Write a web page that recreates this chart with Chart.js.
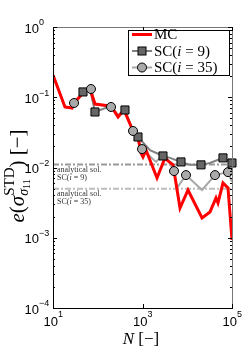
<!DOCTYPE html>
<html>
<head>
<meta charset="utf-8">
<script src="https://cdn.jsdelivr.net/npm/chart.js@4.4.1/dist/chart.umd.min.js"></script>
<style>
  html, body { margin: 0; padding: 0; background: #fff; }
  #wrap { width: 245px; height: 354px; }
</style>
</head>
<body>
<div id="wrap"><canvas id="errChart" width="245" height="354"></canvas></div>
<script>
// Monte Carlo error curve
const mcN   = [10, 18.5, 26.6, 29.5, 46.8, 67, 87, 198, 284, 386, 614, 793, 925, 1025, 1200, 2110, 3180, 3720, 4810, 6890, 10400, 21400, 32200, 43900, 48600, 62900, 81400, 100000];
const mcErr = [0.207, 0.0727, 0.0703, 0.0828, 0.115, 0.131, 0.0801, 0.075, 0.0523, 0.0659, 0.0331, 0.0272, 0.0161, 0.0141, 0.0177, 0.0071, 0.0137, 0.0124, 0.0109, 0.00265, 0.00479, 0.00191, 0.00233, 0.00368, 0.00313, 0.00601, 0.00511, 0.00093];

// stochastic collocation, i = 9 (line and marker points)
const sc9N   = [10, 18.5, 26.6, 46.8, 67, 86.8, 198, 284, 406, 614, 793, 1472, 2870, 4121, 7250, 11510, 20290, 32230, 62920, 100000];
const sc9Err = [0.207, 0.0727, 0.0703, 0.119, 0.131, 0.0617, 0.075, 0.0559, 0.0659, 0.0331, 0.0272, 0.0177, 0.0146, 0.0137, 0.012, 0.0109, 0.0109, 0.0116, 0.0137, 0.0116];
const sc9MarkN   = [46.8, 86.8, 406, 793, 2870, 7250, 20290, 62920, 100000];
const sc9MarkErr = [0.119, 0.0617, 0.0659, 0.0272, 0.0146, 0.012, 0.0109, 0.0137, 0.0116];

// stochastic collocation, i = 35
const sc35N   = [10, 18.5, 26.6, 29.5, 46.8, 70.6, 86.8, 198, 284, 386, 614, 975, 2004, 2870, 3715, 5060, 5904, 9370, 21380, 41690, 81400, 100000];
const sc35Err = [0.207, 0.0727, 0.0703, 0.0828, 0.115, 0.131, 0.0801, 0.0727, 0.0541, 0.0659, 0.0331, 0.0183, 0.012, 0.0151, 0.0128, 0.0089, 0.0051, 0.0078, 0.00479, 0.0078, 0.0086, 0.00622];
const sc35MarkN   = [29.5, 70.6, 198, 614, 975, 5060, 9370, 41690, 81400];
const sc35MarkErr = [0.0828, 0.131, 0.0727, 0.0331, 0.0183, 0.0089, 0.0078, 0.0078, 0.0086];

// analytical solutions (SC i=9, SC i=35)
const analyticN = [10, 100000];
const analyticErr = [0.011, 0.005];

const xTicks = [1, 3, 5];
const yTicks = [0, -1, -2, -3, -4];

const pts = (xs, ys) => xs.map((x, i) => ({ x: x, y: ys[i] }));

const serif = "'Liberation Serif', 'DejaVu Serif', serif";
const sans = "'Liberation Sans', Arial, sans-serif";

function drawRuns(ctx, runs, x, y) {
  runs.forEach(r => {
    if (r.stack) {
      let w = 0;
      r.stack.forEach(s => { w = Math.max(w, drawRuns(ctx, s.runs, x, y + s.dy) - x); });
      x += w;
    } else {
      ctx.font = r.f;
      ctx.fillText(r.t, x, y + (r.dy || 0));
      x += ctx.measureText(r.t).width;
    }
  });
  return x;
}
function runsWidth(ctx, runs) {
  const c = document.createElement('canvas').getContext('2d');
  return drawRuns(c, runs, 0, 0);
}

function drawMarker(ctx, kind, x, y) {
  ctx.save();
  ctx.lineWidth = 1;
  ctx.strokeStyle = '#000';
  if (kind === 'rect') {
    ctx.fillStyle = '#666';
    ctx.fillRect(x - 4, y - 4, 8, 8);
    ctx.strokeRect(x - 4, y - 4, 8, 8);
  } else {
    ctx.fillStyle = '#aaa';
    ctx.beginPath();
    ctx.arc(x, y, 4.5, 0, Math.PI * 2);
    ctx.fill();
    ctx.stroke();
  }
  ctx.restore();
}

const decor = {
  id: 'decor',
  afterDatasetsDraw(chart) {
    const { ctx, chartArea: a, scales } = chart;
    const xs = scales.x, ys = scales.y;
    ctx.save();
    ctx.lineWidth = 1;
    // frame
    ctx.strokeStyle = '#777';
    ctx.beginPath();
    ctx.moveTo(a.left, a.top + 0.5); ctx.lineTo(a.right + 0.5, a.top + 0.5);
    ctx.lineTo(a.right + 0.5, a.bottom);
    ctx.stroke();
    ctx.strokeStyle = '#000';
    ctx.beginPath();
    ctx.moveTo(a.left + 0.5, a.top); ctx.lineTo(a.left + 0.5, a.bottom + 0.5);
    ctx.lineTo(a.right + 1, a.bottom + 0.5);
    ctx.stroke();
    // ticks
    ctx.beginPath();
    xTicks.forEach(k => {
      const px = Math.round(xs.getPixelForValue(Math.pow(10, k))) + 0.5;
      ctx.moveTo(px, a.bottom); ctx.lineTo(px, a.bottom - 4);
      ctx.moveTo(px, a.top); ctx.lineTo(px, a.top + 4);
    });
    for (let k = -4; k <= 0; k++) {
      const py = Math.round(ys.getPixelForValue(Math.pow(10, k))) + 0.5;
      ctx.moveTo(a.left, py); ctx.lineTo(a.left + 4, py);
      ctx.moveTo(a.right, py); ctx.lineTo(a.right - 4, py);
      if (k < 0) {
        for (let m = 2; m <= 9; m++) {
          const pm = Math.round(ys.getPixelForValue(m * Math.pow(10, k))) + 0.5;
          ctx.moveTo(a.left, pm); ctx.lineTo(a.left + 2, pm);
          ctx.moveTo(a.right, pm); ctx.lineTo(a.right - 2, pm);
        }
      }
    }
    ctx.stroke();
    ctx.restore();
  },
  afterDraw(chart) {
    const { ctx, chartArea: a, scales } = chart;
    const xs = scales.x, ys = scales.y;
    ctx.save();
    ctx.fillStyle = '#000';
    ctx.textBaseline = 'middle';
    // y tick labels
    yTicks.forEach(k => {
      const py = ys.getPixelForValue(Math.pow(10, k));
      ctx.font = '13px ' + sans;
      ctx.textAlign = 'right';
      ctx.fillText('10', 39, py + 2);
      ctx.font = '9px ' + sans;
      ctx.textAlign = 'left';
      ctx.fillText(k === 0 ? '0' : '\u2212' + (-k), 39, py - 4);
    });
    // x tick labels
    xTicks.forEach(k => {
      const px = xs.getPixelForValue(Math.pow(10, k));
      ctx.font = '13px ' + sans;
      ctx.textAlign = 'right';
      ctx.fillText('10', px + 5, 322);
      ctx.font = '9px ' + sans;
      ctx.textAlign = 'left';
      ctx.fillText(String(k), px + 5, 315);
    });
    // x title
    ctx.textAlign = 'left';
    const xt = [{ t: 'N', f: 'italic 17px ' + serif }, { t: ' [\u2212]', f: '17px ' + serif }];
    drawRuns(ctx, xt, 141 - runsWidth(ctx, xt) / 2, 340);
    // y title
    const yt = [
      { t: 'e', f: 'italic 21px ' + serif },
      { t: '(', f: '21px ' + serif },
      { t: '\u03c3', f: 'italic 21px ' + serif },
      { stack: [
        { dy: -8, runs: [{ t: 'STD', f: '15px ' + serif }] },
        { dy: 6, runs: [{ t: '\u03c3', f: 'italic 14px ' + serif }, { t: '11', f: '10px ' + serif, dy: 3 }] }
      ] },
      { t: ')', f: '21px ' + serif },
      { t: ' [\u2212]', f: '21px ' + serif }
    ];
    ctx.save();
    ctx.translate(18, 176);
    ctx.rotate(-Math.PI / 2);
    drawRuns(ctx, yt, -runsWidth(ctx, yt) / 2, 0);
    ctx.restore();
    // analytical solution notes
    ctx.fillStyle = '#333';
    const f8 = '8px ' + serif, f8i = 'italic 8px ' + serif;
    [[0, '9'], [1, '35']].forEach(([i, s]) => {
      const py = ys.getPixelForValue(analyticErr[i]);
      drawRuns(ctx, [{ t: 'analytical sol.', f: f8 }], a.left + 4, py + 5);
      drawRuns(ctx, [{ t: 'SC(', f: f8 }, { t: 'i', f: f8i }, { t: ' = ' + s + ')', f: f8 }], a.left + 4, py + 13);
    });
    // legend
    ctx.fillStyle = '#fff';
    ctx.fillRect(128, 30, 102, 46);
    ctx.strokeStyle = '#000';
    ctx.lineWidth = 1;
    ctx.strokeRect(128.5, 30.5, 101, 45);
    const lf = '15px ' + serif, lfi = 'italic 15px ' + serif;
    const rows = [
      { y: 34.5, color: '#ff0000', w: 3, marker: null, runs: [{ t: 'MC', f: lf }] },
      { y: 51, color: '#808080', w: 2, marker: 'rect', runs: [{ t: 'SC(', f: lf }, { t: 'i', f: lfi }, { t: ' = 9)', f: lf }] },
      { y: 67.5, color: '#a8a8a8', w: 2, marker: 'circle', runs: [{ t: 'SC(', f: lf }, { t: 'i', f: lfi }, { t: ' = 35)', f: lf }] }
    ];
    rows.forEach(r => {
      ctx.strokeStyle = r.color;
      ctx.lineWidth = r.w;
      ctx.beginPath();
      ctx.moveTo(132, r.y); ctx.lineTo(152, r.y);
      ctx.stroke();
      if (r.marker) drawMarker(ctx, r.marker, 142, r.y);
      ctx.fillStyle = '#000';
      drawRuns(ctx, r.runs, 154, r.y + 1);
    });
    ctx.restore();
  }
};

const ctx = document.getElementById('errChart').getContext('2d');
const errChart = new Chart(ctx, {
  type: 'line',
  data: {
    datasets: [
      { label: 'analytical SC(i=9)', data: pts(analyticN, [analyticErr[0], analyticErr[0]]),
        borderColor: '#999', borderWidth: 2, borderDash: [6, 2, 2, 2], pointRadius: 0, order: 6 },
      { label: 'analytical SC(i=35)', data: pts(analyticN, [analyticErr[1], analyticErr[1]]),
        borderColor: '#bdbdbd', borderWidth: 2, borderDash: [6, 2, 2, 2], pointRadius: 0, order: 6 },
      { label: 'SC(i=9) line', data: pts(sc9N, sc9Err), borderColor: '#808080', borderWidth: 2, pointRadius: 0, order: 5 },
      { label: 'SC(i=35) line', data: pts(sc35N, sc35Err), borderColor: '#a8a8a8', borderWidth: 2, pointRadius: 0, order: 4 },
      { label: 'MC', data: pts(mcN, mcErr), borderColor: '#ff0000', borderWidth: 3, pointRadius: 0, order: 3 },
      { label: 'SC(i=9)', data: pts(sc9MarkN, sc9MarkErr), showLine: false, pointStyle: 'rect',
        pointRadius: 5.7, backgroundColor: '#666', borderColor: '#000', borderWidth: 1, clip: false, order: 2 },
      { label: 'SC(i=35)', data: pts(sc35MarkN, sc35MarkErr), showLine: false, pointStyle: 'circle',
        pointRadius: 4.5, backgroundColor: '#aaa', borderColor: '#000', borderWidth: 1, clip: false, order: 1 }
    ]
  },
  options: {
    responsive: false,
    animation: false,
    devicePixelRatio: 1,
    layout: { padding: { left: 53, right: 13, top: 27, bottom: 46 } },
    elements: { line: { tension: 0 } },
    plugins: { legend: { display: false }, tooltip: { enabled: false } },
    scales: {
      x: { type: 'logarithmic', min: 10, max: 100000, display: false },
      y: { type: 'logarithmic', min: 0.0001, max: 1, display: false }
    }
  },
  plugins: [decor]
});
</script>
</body>
</html>
